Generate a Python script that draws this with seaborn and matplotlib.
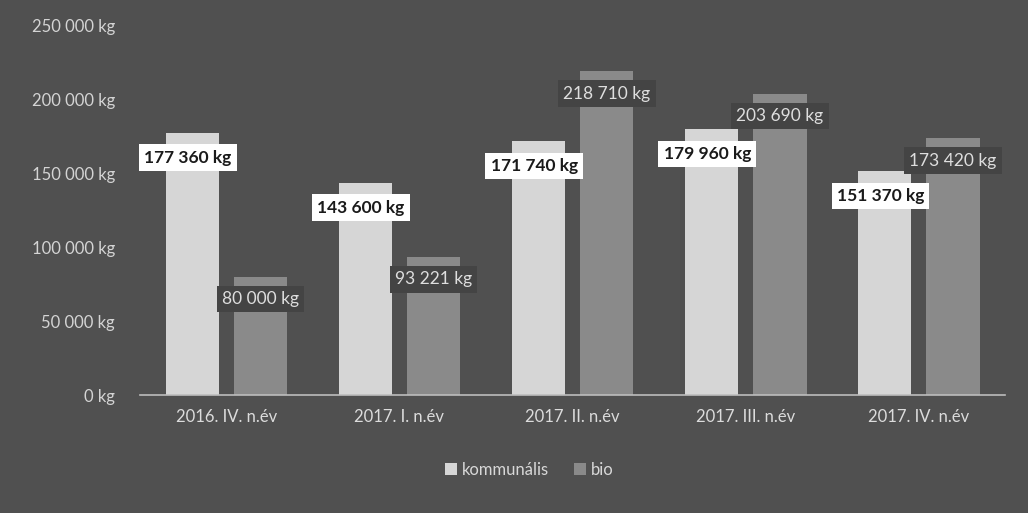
import pandas as pd
import matplotlib
matplotlib.use("Agg")
import matplotlib.pyplot as plt
import seaborn as sns

# values
quarters = ["2016. IV. n.év", "2017. I. n.év", "2017. II. n.év", "2017. III. n.év", "2017. IV. n.év"]
kommunalis = [177360, 143600, 171740, 179960, 151370]
bio = [80000, 93221, 218710, 203690, 173420]
series = ["kommunális", "bio"]
y_ticks = [0, 50000, 100000, 150000, 200000, 250000]

def fmt_kg(v):
    return f"{v:,}".replace(",", " ") + " kg"

df = pd.DataFrame({
    "quarter": quarters * 2,
    "value": kommunalis + bio,
    "type": [series[0]] * len(quarters) + [series[1]] * len(quarters),
})

bg = "#505050"
sns.set_style("white")
plt.rcParams["font.family"] = ["Lato", "DejaVu Sans"]

fig = plt.figure(figsize=(10.28, 5.13), dpi=100)
fig.patch.set_facecolor(bg)
ax = fig.add_axes([0.136, 0.23, 0.842, 0.721])
ax.set_facecolor(bg)

sns.barplot(data=df, x="quarter", y="value", hue="type", hue_order=series,
            palette=["#d6d6d6", "#8a8a8a"], width=0.79, gap=0.22,
            saturation=1, linewidth=0, ax=ax, legend=True)

ax.set_ylim(0, 250000)
ax.set_yticks(y_ticks)
ax.set_yticklabels([fmt_kg(v) for v in y_ticks], color="#d4d4d4", fontsize=12)
ax.tick_params(axis="x", colors="#dcdcdc", labelsize=12, length=0, pad=10)
ax.tick_params(axis="y", length=0, pad=18)
ax.set_xlabel("")
ax.set_ylabel("")
for side in ["top", "right", "left"]:
    ax.spines[side].set_visible(False)
ax.spines["bottom"].set_color("#bdbdbd")
ax.spines["bottom"].set_linewidth(1.2)

# data labels
for i, container in enumerate(ax.containers):
    for bar in container:
        h = bar.get_height()
        cx = bar.get_x() + bar.get_width() / 2
        if i == 0:
            ax.annotate(fmt_kg(int(h)), (cx, h), xytext=(-3, -18), textcoords="offset points",
                        ha="center", va="center", fontsize=12.5, fontweight="bold",
                        color="#1a1a1a",
                        bbox=dict(boxstyle="square,pad=0.3", fc="white", ec="none"))
        else:
            ax.annotate(fmt_kg(int(h)), (cx, h), xytext=(0, -16), textcoords="offset points",
                        ha="center", va="center", fontsize=12.5, color="#dedede",
                        bbox=dict(boxstyle="square,pad=0.3", fc="#444444", ec="none"))

leg = ax.legend(loc="upper center", bbox_to_anchor=(0.45, -0.14), ncol=2, frameon=False,
                fontsize=12, handlelength=0.7, handleheight=0.7, handletextpad=0.3,
                columnspacing=1.5)
for t in leg.get_texts():
    t.set_color("#d8d8d8")
for h in leg.legend_handles:
    h.set_linewidth(0)

fig.savefig("out.png", dpi=100, facecolor=bg)
